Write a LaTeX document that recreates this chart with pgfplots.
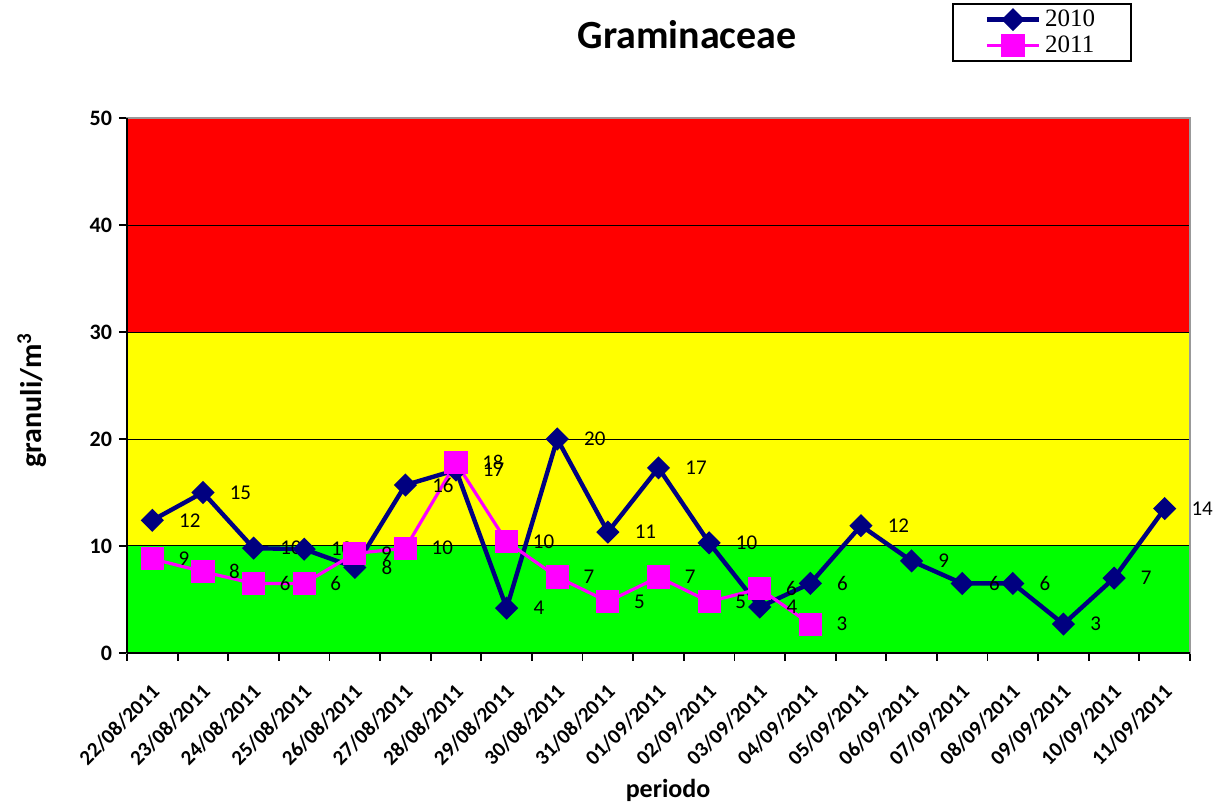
\documentclass[border=0pt]{standalone}
\usepackage{fontspec}
\setmainfont{Carlito}
\newfontfamily\legfont{Liberation Serif}
\usepackage{pgfplots}
\usepackage{pgfplotstable}
\pgfplotsset{compat=1.18}
\definecolor{navyc}{HTML}{000080}
\definecolor{magc}{HTML}{FF00FF}
\definecolor{gre}{HTML}{00FF00}
\definecolor{yel}{HTML}{FFFF00}
\definecolor{redc}{HTML}{FF0000}

\pgfplotstableread{
x y lab
0.5 12.4 12
1.5 15.0 15
2.5 9.8 10
3.5 9.7 10
4.5 8.0 8
5.5 15.7 16
6.5 17.1 17
7.5 4.2 4
8.5 20.0 20
9.5 11.3 11
10.5 17.3 17
11.5 10.3 10
12.5 4.3 4
13.5 6.5 6
14.5 11.9 12
15.5 8.6 9
16.5 6.5 6
17.5 6.5 6
18.5 2.7 3
19.5 7.0 7
20.5 13.5 14
}\dataA

\pgfplotstableread{
x y lab
0.5 8.8 9
1.5 7.6 8
2.5 6.5 6
3.5 6.5 6
4.5 9.3 9
5.5 9.8 10
6.5 17.8 18
7.5 10.4 10
8.5 7.1 7
9.5 4.8 5
10.5 7.1 7
11.5 4.8 5
12.5 6.0 6
13.5 2.7 3
}\dataB

\begin{document}
\begin{tikzpicture}
\begin{axis}[
  set layers=standard,
  at={(0,0)}, anchor=south west,
  scale only axis, width=531.5pt, height=267.5pt,
  xmin=0, xmax=21, ymin=0, ymax=50,
  clip=false,
  xtick={0.5,1.5,...,20.5},
  xticklabels={22/08/2011,23/08/2011,24/08/2011,25/08/2011,26/08/2011,27/08/2011,28/08/2011,29/08/2011,30/08/2011,31/08/2011,01/09/2011,02/09/2011,03/09/2011,04/09/2011,05/09/2011,06/09/2011,07/09/2011,08/09/2011,09/09/2011,10/09/2011,11/09/2011},
  minor xtick={0,1,...,21},
  ytick={0,10,...,50},
  xtick pos=bottom, ytick pos=left,
  tick align=outside,
  major tick length=4pt, minor tick length=4pt,
  major x tick style={draw=none},
  minor x tick style={black, line width=0.9pt},
  major y tick style={black, line width=0.9pt},
  ymajorgrids, grid style={black, line width=0.5pt},
  axis line style={draw=gray!80, line width=0.8pt},
  /pgf/number format/assume math mode=true,
  tick label style={font=\bfseries\fontsize{11}{13}\selectfont},
  xticklabel style={rotate=45, anchor=east, xshift=-5pt, yshift=-11pt, font=\bfseries\fontsize{10.5}{12}\selectfont},
  title={Graminaceae},
  title style={at={(axis description cs:0.527,1.133)}, anchor=center, font=\bfseries\fontsize{20}{24}\selectfont},
  xlabel={periodo},
  xlabel style={at={(axis description cs:0.509,-0.256)}, anchor=center, font=\bfseries\fontsize{13}{15}\selectfont},
  ylabel={granuli/m\textsuperscript{3}},
  ylabel style={at={(axis description cs:-0.0894,0.473)}, anchor=center, font=\bfseries\fontsize{15}{17}\selectfont},
  legend style={at={(axis description cs:0.776,1.1047)}, anchor=south west, draw=black, line width=0.9pt,
     font=\legfont\fontsize{12.5}{14}\selectfont, inner xsep=16pt, inner ysep=1pt, row sep=-1pt},
  legend cell align=left,
  legend image code/.code={\draw[mark repeat=2,mark phase=2,#1] plot coordinates {(0pt,0pt)(13pt,0pt)(26pt,0pt)};},
  nodes near coords,
  point meta=explicit symbolic,
  every node near coord/.append style={anchor=west, xshift=9pt, black, font=\fontsize{10.5}{12}\selectfont},
]
\begin{pgfonlayer}{axis background}
\fill[gre] (axis cs:0,0) rectangle (axis cs:21,10);
\fill[yel] (axis cs:0,10) rectangle (axis cs:21,30);
\fill[redc] (axis cs:0,30) rectangle (axis cs:21,50);
\end{pgfonlayer}
\addplot[navyc, line width=2.2pt, mark=square*, mark size=3pt, mark options={rotate=45, solid}] table[x=x, y=y, meta=lab] {\dataA};
\addlegendentry{2010}
\addplot[magc, line width=1.6pt, mark=square*, mark size=5pt, mark options={solid}] table[x=x, y=y, meta=lab] {\dataB};
\addlegendentry{2011}
\draw[black, line width=1pt] (rel axis cs:0,0) -- (rel axis cs:0,1);
\draw[black, line width=1pt] (rel axis cs:0,0) -- (rel axis cs:1,0);
\end{axis}
\pgfresetboundingbox
\path[use as bounding box] (-63.5pt,-75pt) rectangle (547pt,326.5pt);
\end{tikzpicture}
\end{document}
